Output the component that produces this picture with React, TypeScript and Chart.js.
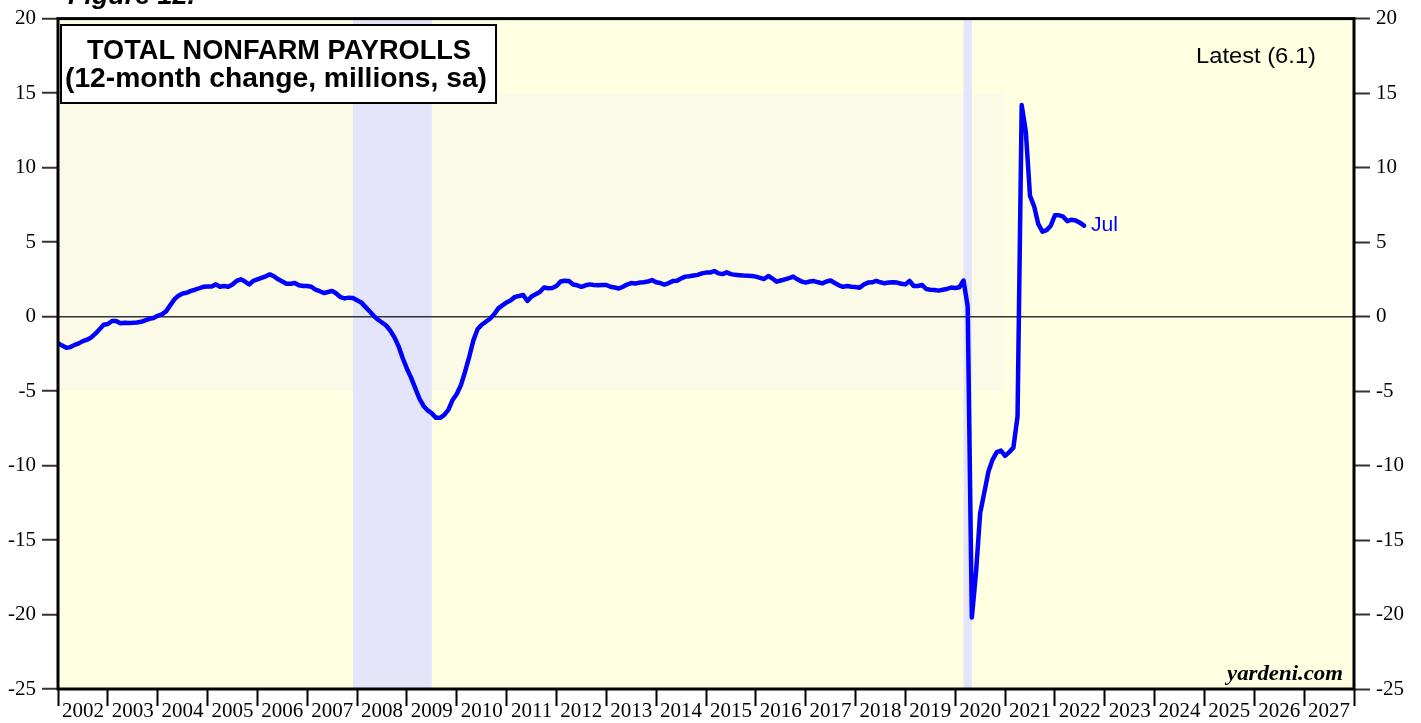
import React, { useEffect, useRef } from 'react';
import { Chart, registerables } from 'chart.js';

Chart.register(...registerables);

// ---------- DATA ----------
// Monthly 12-month change in total nonfarm payrolls (millions, sa), end-of-month values.
const dec2001 = [-1.79];
const y2002 = [-1.95, -2.1, -2.05, -1.9, -1.8, -1.65, -1.55, -1.4, -1.15, -0.85, -0.55, -0.5];
const y2003 = [-0.3, -0.3, -0.45, -0.42, -0.43, -0.42, -0.4, -0.35, -0.25, -0.15, -0.1, 0.05];
const y2004 = [0.15, 0.35, 0.75, 1.15, 1.4, 1.55, 1.6, 1.72, 1.8, 1.9, 2.0, 2.02];
const y2005 = [2.02, 2.16, 2.0, 2.05, 2.0, 2.15, 2.4, 2.5, 2.35, 2.15, 2.4, 2.5];
const y2006 = [2.6, 2.7, 2.83, 2.7, 2.5, 2.35, 2.2, 2.2, 2.25, 2.1, 2.05, 2.05];
const y2007 = [2.0, 1.8, 1.7, 1.58, 1.65, 1.72, 1.55, 1.3, 1.22, 1.27, 1.25, 1.1];
const y2008 = [0.95, 0.65, 0.35, 0.05, -0.2, -0.4, -0.6, -0.95, -1.4, -2.0, -2.8, -3.5];
const y2009 = [-4.1, -4.8, -5.5, -6.0, -6.3, -6.5, -6.8, -6.8, -6.6, -6.25, -5.6, -5.2];
const y2010 = [-4.6, -3.7, -2.7, -1.6, -0.85, -0.55, -0.35, -0.15, 0.15, 0.55, 0.75, 0.95];
const y2011 = [1.1, 1.32, 1.38, 1.45, 1.05, 1.35, 1.5, 1.65, 1.95, 1.9, 1.92, 2.05];
const y2012 = [2.35, 2.4, 2.38, 2.15, 2.1, 2.0, 2.1, 2.16, 2.12, 2.1, 2.12, 2.12];
const y2013 = [2.0, 1.95, 1.88, 2.0, 2.15, 2.25, 2.22, 2.28, 2.3, 2.35, 2.45, 2.3];
const y2014 = [2.25, 2.15, 2.25, 2.38, 2.4, 2.55, 2.68, 2.7, 2.75, 2.8, 2.9, 2.95];
const y2015 = [2.95, 3.06, 2.9, 2.85, 2.97, 2.85, 2.8, 2.78, 2.75, 2.74, 2.72, 2.68];
const y2016 = [2.6, 2.52, 2.72, 2.55, 2.34, 2.42, 2.5, 2.58, 2.68, 2.5, 2.35, 2.28];
const y2017 = [2.35, 2.38, 2.3, 2.23, 2.35, 2.42, 2.25, 2.1, 2.0, 2.05, 2.0, 1.98];
const y2018 = [1.94, 2.15, 2.28, 2.3, 2.39, 2.3, 2.23, 2.28, 2.3, 2.28, 2.2, 2.16];
const y2019 = [2.39, 2.05, 2.05, 2.12, 1.85, 1.8, 1.78, 1.74, 1.8, 1.85, 1.95, 1.92];
const y2020 = [1.97, 2.42, 0.69, -20.2, -17.2, -13.2, -11.8, -10.4, -9.6, -9.1, -9.0, -9.35];
const y2021 = [-9.1, -8.8, -6.7, 14.2, 12.4, 8.1, 7.4, 6.2, 5.7, 5.8, 6.1, 6.8];
const y2022 = [6.8, 6.7, 6.4, 6.5, 6.45, 6.3, 6.1];

const seriesStart = 2002; // end of Dec 2001
const payrolls = [
  ...dec2001, ...y2002, ...y2003, ...y2004, ...y2005, ...y2006, ...y2007, ...y2008,
  ...y2009, ...y2010, ...y2011, ...y2012, ...y2013, ...y2014, ...y2015, ...y2016,
  ...y2017, ...y2018, ...y2019, ...y2020, ...y2021, ...y2022,
];

const recessionStarts = [2007.917, 2020.167];
const recessionEnds = [2009.5, 2020.333];

const xMin = 2002;
const xMax = 2028;
const yMin = -25;
const yMax = 20;
const yStep = 5;

const titleLines = ['TOTAL NONFARM PAYROLLS', '(12-month change, millions, sa)'];
const latestLabel = 'Latest (6.1)';
const lastMonthLabel = 'Jul';
const sourceLabel = 'yardeni.com';
const figureLabel = 'Figure 12.';

// ---------- STYLE ----------
const PLOT_BG = '#FFFFE1';
const INNER_BG = '#FAFAE7';
const BAND = '#E4E4FA';
const LINE = '#0000FF';
const SERIF = '"Liberation Serif", "Times New Roman", serif';
const SANS = '"Liberation Sans", Arial, sans-serif';

function fillTextFit(ctx: CanvasRenderingContext2D, text: string, x: number, y: number, width: number, align: 'left' | 'center' | 'right') {
  const w = ctx.measureText(text).width;
  const s = width / w;
  ctx.save();
  let ox = x;
  if (align === 'center') ox = x - width / 2;
  if (align === 'right') ox = x - width;
  ctx.translate(ox, y);
  ctx.scale(s, 1);
  ctx.textAlign = 'left';
  ctx.fillText(text, 0, 0);
  ctx.restore();
}

const decorPlugin = {
  id: 'decor',
  beforeDraw(chart: any) {
    const { ctx, chartArea: a, scales } = chart;
    const x = scales.x;
    const y = scales.y;
    ctx.save();
    ctx.fillStyle = '#FFFFFF';
    ctx.fillRect(0, 0, chart.width, chart.height);
    ctx.fillStyle = PLOT_BG;
    ctx.fillRect(a.left, a.top, a.right - a.left, a.bottom - a.top);
    // faint inner panel
    const ix0 = x.getPixelForValue(2002);
    const ix1 = x.getPixelForValue(2021);
    const iy0 = y.getPixelForValue(15);
    const iy1 = y.getPixelForValue(-5);
    ctx.fillStyle = INNER_BG;
    ctx.fillRect(ix0, iy0, ix1 - ix0, iy1 - iy0);
    // recession bands
    ctx.fillStyle = BAND;
    for (let i = 0; i < recessionStarts.length; i++) {
      const p0 = x.getPixelForValue(recessionStarts[i]);
      const p1 = x.getPixelForValue(recessionEnds[i]);
      ctx.fillRect(p0, a.top, p1 - p0, a.bottom - a.top);
    }
    ctx.restore();
  },
  afterDatasetsDraw(chart: any) {
    const { ctx, scales } = chart;
    const lastIdx = payrolls.length - 1;
    const px = scales.x.getPixelForValue(seriesStart + lastIdx / 12);
    const py = scales.y.getPixelForValue(payrolls[lastIdx]);
    ctx.save();
    ctx.fillStyle = LINE;
    ctx.font = `20px ${SANS}`;
    ctx.textBaseline = 'middle';
    fillTextFit(ctx, lastMonthLabel, px + 7, py, 27, 'left');
    ctx.restore();
  },
  afterDraw(chart: any) {
    const { ctx, chartArea: a } = chart;
    ctx.save();
    // frame
    ctx.strokeStyle = '#000';
    ctx.lineWidth = 3;
    ctx.strokeRect(a.left, a.top, a.right - a.left, a.bottom - a.top);
    // title box
    ctx.fillStyle = '#FFFFFF';
    ctx.fillRect(61, 25, 435, 78);
    ctx.lineWidth = 2;
    ctx.strokeRect(61, 25, 435, 78);
    ctx.fillStyle = '#000';
    ctx.font = `bold 27px ${SANS}`;
    ctx.textBaseline = 'middle';
    fillTextFit(ctx, titleLines[0], 279, 51.5, 384, 'center');
    fillTextFit(ctx, titleLines[1], 276, 80, 422, 'center');
    // latest
    ctx.font = `22px ${SANS}`;
    fillTextFit(ctx, latestLabel, 1316, 57, 120, 'right');
    // source
    ctx.font = `bold italic 22px ${SERIF}`;
    ctx.textBaseline = 'alphabetic';
    fillTextFit(ctx, sourceLabel, 1343, 680, 116, 'right');
    // figure label (cut at top)
    ctx.font = `bold italic 26px ${SANS}`;
    fillTextFit(ctx, figureLabel, 68, 4, 127, 'left');
    ctx.restore();
  },
};

export default function App() {
  const canvasRef = useRef<HTMLCanvasElement | null>(null);

  useEffect(() => {
    if (!canvasRef.current) return;
    const points = payrolls.map((v, i) => ({ x: seriesStart + i / 12, y: v }));
    const yearTicks: number[] = [];
    for (let yr = xMin; yr <= xMax; yr++) yearTicks.push(yr);

    const chart = new Chart(canvasRef.current, {
      type: 'line',
      data: {
        datasets: [
          {
            data: points,
            borderColor: LINE,
            borderWidth: 4.5,
            pointRadius: 0,
            tension: 0,
            fill: false,
            borderJoinStyle: 'round',
            borderCapStyle: 'round',
            yAxisID: 'y',
          },
        ],
      },
      options: {
        animation: false,
        responsive: false,
        devicePixelRatio: 1,
        layout: { padding: { top: 17, left: 0, right: 0, bottom: 0 } },
        plugins: { legend: { display: false }, tooltip: { enabled: false }, title: { display: false } },
        scales: {
          x: {
            type: 'linear',
            min: xMin,
            max: xMax,
            afterFit: (s: any) => { s.height = 34; },
            afterBuildTicks: (s: any) => { s.ticks = yearTicks.map((v) => ({ value: v })); },
            ticks: {
              autoSkip: false,
              maxRotation: 0,
              minRotation: 0,
              labelOffset: 24.9,
              padding: -7,
              color: '#000',
              font: { family: SERIF, size: 21 },
              callback: (v: any) => (Number(v) < xMax ? String(v) : ''),
            },
            grid: {
              drawOnChartArea: false,
              drawTicks: true,
              tickLength: 17,
              tickColor: '#000',
              tickWidth: 2,
              color: '#000',
            },
            border: { display: false },
          },
          y: {
            type: 'linear',
            position: 'left',
            min: yMin,
            max: yMax,
            afterFit: (s: any) => { s.width = 58; },
            ticks: {
              stepSize: yStep,
              padding: 6,
              color: '#000',
              font: { family: SERIF, size: 21 },
            },
            grid: {
              drawOnChartArea: true,
              color: (c: any) => (c.tick && c.tick.value === 0 ? '#333333' : 'rgba(0,0,0,0)'),
              lineWidth: 1.5,
              tickColor: '#333333',
              tickWidth: 2,
              tickLength: 16,
            },
            border: { display: false },
          },
          y2: {
            type: 'linear',
            position: 'right',
            min: yMin,
            max: yMax,
            afterFit: (s: any) => { s.width = 67; },
            ticks: {
              stepSize: yStep,
              padding: 6,
              color: '#000',
              font: { family: SERIF, size: 21 },
            },
            grid: {
              drawOnChartArea: false,
              tickColor: '#333333',
              tickWidth: 2,
              tickLength: 16,
            },
            border: { display: false },
          },
        },
      },
      plugins: [decorPlugin],
    } as any);

    return () => chart.destroy();
  }, []);

  return (
    <div style={{ position: 'absolute', left: 0, top: 0, width: 1421, height: 723, background: '#fff' }}>
      <canvas ref={canvasRef} width={1421} height={723} style={{ display: 'block' }} />
    </div>
  );
}
